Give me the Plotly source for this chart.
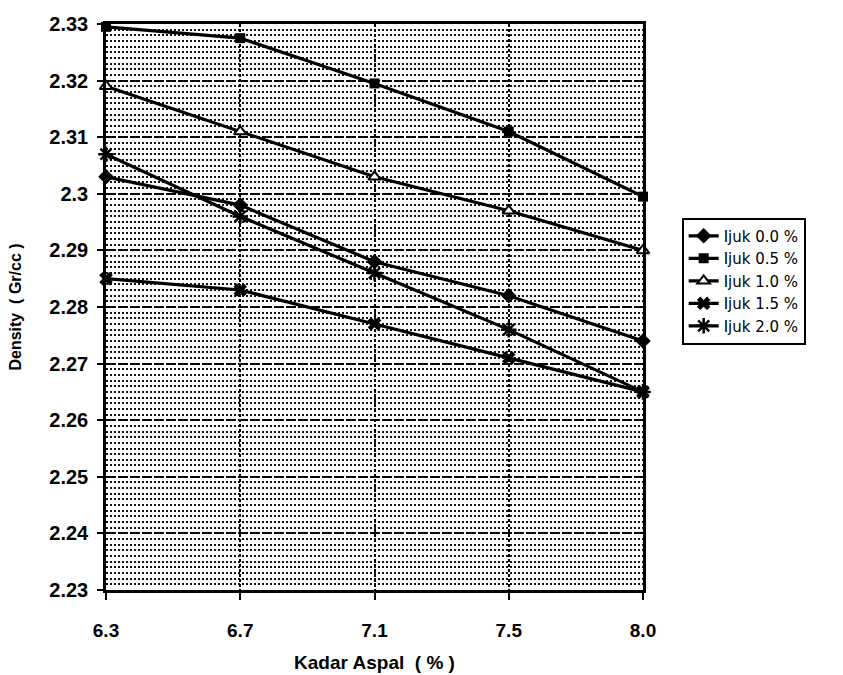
import plotly.graph_objects as go

# Asphalt content (% by weight) used for each mix
kadar_aspal = ["6.3", "6.7", "7.1", "7.5", "8.0"]

# Density (gr/cc) for each fibre (ijuk) content
ijuk_00 = [2.303, 2.298, 2.288, 2.282, 2.274]
ijuk_05 = [2.3295, 2.3275, 2.3195, 2.311, 2.2995]
ijuk_10 = [2.319, 2.311, 2.303, 2.297, 2.290]
ijuk_15 = [2.285, 2.283, 2.277, 2.271, 2.265]
ijuk_20 = [2.307, 2.296, 2.286, 2.276, 2.265]

series_names = ["Ijuk 0.0 %", "Ijuk 0.5 %", "Ijuk 1.0 %", "Ijuk 1.5 %", "Ijuk 2.0 %"]

y_tickvals = [2.23, 2.24, 2.25, 2.26, 2.27, 2.28, 2.29, 2.30, 2.31, 2.32, 2.33]
y_ticktext = ["2.23", "2.24", "2.25", "2.26", "2.27", "2.28", "2.29", "2.3", "2.31", "2.32", "2.33"]

FONT = "Liberation Sans, Arial, sans-serif"
LEGEND_FONT = "DejaVu Sans, sans-serif"

marker_styles = [
    dict(symbol="diamond", size=12, color="black"),
    dict(symbol="square", size=10, color="black"),
    dict(symbol="triangle-up", size=11, color="white", line=dict(color="black", width=2)),
    dict(symbol="x", size=12, color="black", line=dict(width=0)),
    dict(symbol="asterisk-open", size=13, line=dict(color="black", width=2.5)),
]

fig = go.Figure()
for name, values, mk in zip(series_names,
                            [ijuk_00, ijuk_05, ijuk_10, ijuk_15, ijuk_20],
                            marker_styles):
    fig.add_trace(go.Scatter(
        x=kadar_aspal, y=values, name=name,
        mode="lines+markers",
        line=dict(color="black", width=3.2),
        marker=mk,
        cliponaxis=False,
    ))

fig.update_layout(
    width=843, height=675,
    margin=dict(l=106, r=200, t=24, b=85),
    paper_bgcolor="white",
    plot_bgcolor="white",
    font=dict(family=FONT, color="black"),
    showlegend=True,
    legend=dict(
        x=1.072, xanchor="left",
        y=0.658, yanchor="top",
        bordercolor="black", borderwidth=2,
        bgcolor="white",
        font=dict(family=LEGEND_FONT, size=15, color="black"),
        tracegroupgap=0,
        itemwidth=30,
    ),
)

fig.update_xaxes(
    type="category",
    range=[0, 4],
    automargin=False,
    showline=True, linecolor="black", linewidth=2.5, mirror=True,
    ticks="outside", ticklen=7, tickwidth=2, tickcolor="black",
    ticklabelstandoff=14,
    tickfont=dict(family=FONT, size=19, color="black", weight="bold"),
    showgrid=True, gridcolor="black", gridwidth=1.5, griddash="3px,2px",
    zeroline=False,
    title=dict(text="Kadar Aspal  ( % )", standoff=17,
               font=dict(family=FONT, size=19, color="black", weight="bold")),
)

fig.update_yaxes(
    range=[2.23, 2.33],
    automargin=False,
    tickmode="array", tickvals=y_tickvals, ticktext=y_ticktext,
    showline=True, linecolor="black", linewidth=2.5, mirror=True,
    ticks="outside", ticklen=6, tickwidth=2, tickcolor="black",
    ticklabelstandoff=5,
    tickfont=dict(family=FONT, size=20, color="black", weight="bold"),
    showgrid=True, gridcolor="black", gridwidth=1.5, griddash="4px,2px",
    zeroline=False,
    minor=dict(tick0=2.23, dtick=0.001, showgrid=True,
               gridcolor="#111111", gridwidth=1.6, griddash="1.6px,2.4px"),
    title=dict(text="Density  ( Gr/cc )", standoff=24,
               font=dict(family=FONT, size=16, color="black", weight="bold")),
)

fig.write_html("out.html")
